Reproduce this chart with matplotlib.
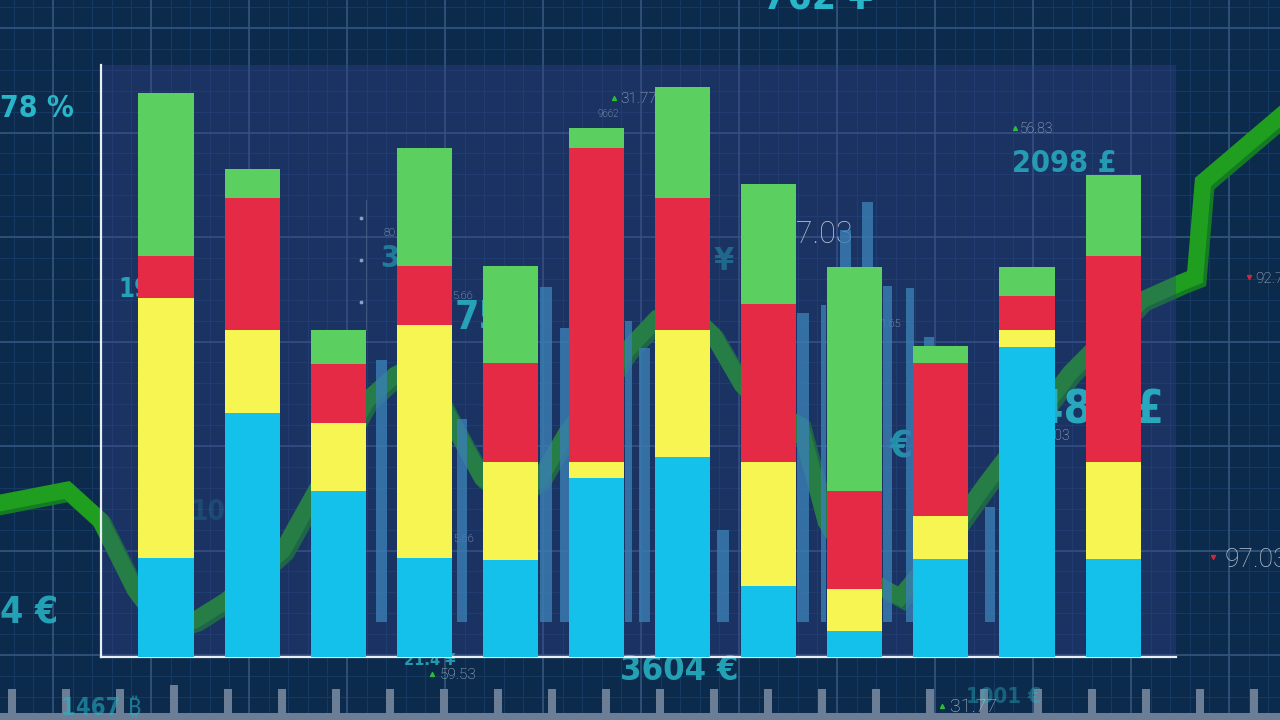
import numpy as np
import matplotlib
matplotlib.use("Agg")
import matplotlib.pyplot as plt
from matplotlib.patches import Rectangle
from matplotlib import font_manager as fm

# ---------------- data ----------------
categories = list(range(12))
blue   = [16.7, 41.2, 28.0, 16.7, 16.4, 30.2, 33.8, 12.0, 4.4, 16.6, 52.4, 16.6]
yellow = [43.9, 14.0, 11.5, 39.4, 16.6, 2.7, 21.5, 20.9, 7.1, 7.3, 2.9, 16.4]
red    = [7.1, 22.3, 10.0, 10.0, 16.6, 53.0, 22.3, 26.7, 16.6, 25.7, 5.7, 34.8]
green  = [27.5, 4.9, 5.7, 19.9, 16.4, 3.4, 18.6, 20.3, 37.8, 2.9, 4.9, 13.7]

# faint background bars (category units)
bg_pos    = [2.50, 3.44, 4.41, 4.63, 5.37, 5.56, 6.47, 7.40, 7.64, 7.89, 8.15, 8.38, 8.64, 8.86, 9.57]
bg_width  = [0.13, 0.12, 0.14, 0.10, 0.08, 0.13, 0.14, 0.14, 0.06, 0.13, 0.13, 0.10, 0.10, 0.12, 0.12]
bg_top    = [50.2, 40.2, 62.5, 55.6, 56.8, 52.2, 21.5, 58.1, 59.5, 72.1, 76.9, 62.7, 62.3, 54.1, 25.3]
bg_bottom = 5.9

# trend ribbon (background, image units)
trend_x = [-10, 0, 67, 100, 135, 165, 195, 227, 283, 308, 367, 395, 420, 453, 482, 510, 539, 567,
           600, 627, 657, 685, 713, 742, 770, 800, 826, 860, 900, 935, 985, 1070, 1142, 1180, 1195,
           1203, 1290]
trend_y = [505, 503, 490, 520, 590, 630, 620, 600, 550, 505, 400, 375, 362, 425, 478, 497, 480, 432,
           390, 350, 318, 308, 335, 385, 410, 425, 522, 575, 597, 555, 485, 373, 300, 283, 277,
           182, 108]

# decorative numbers
big_labels = [  # text, x, baseline y, ha, size, alpha, max width
    ("78 %", 0, 117, "left", 25, 1.0, 74),
    ("762 ¥", 763, 10, "left", 30, 1.0, 110),
    ("19", 118, 297, "left", 25, 0.85, 32),
    ("2098 £", 1012, 172, "left", 25, 0.8, 105),
    ("1482 £", 1164, 423, "right", 33, 0.9, 200),
    ("4 €", 0, 623, "left", 30, 0.85, 58),
    ("3604 €", 620, 680, "left", 30, 0.85, 118),
    ("21.4 ¥", 404, 665, "left", 16, 0.8, 52),
    ("1467 ₿", 61, 715, "left", 28, 0.55, 80),
    ("1001 €", 966, 703, "left", 22, 0.4, 75),
    ("75.3", 455, 330, "left", 28, 0.85, 200),
    ("3", 380, 267, "left", 22, 0.55, 200),
    ("26 €", 913, 457, "right", 27, 0.7, 200),
    ("4 ¥", 734, 270, "right", 23, 0.4, 200),
    ("1008", 190, 520, "left", 20, 0.18, 200),
]
small_labels = [  # text, x, baseline y, ha, size
    ("47.03", 853, 243, "right", 22),
    ("97.03", 1225, 567, "left", 19),
    ("92.7", 1255, 283, "left", 11),
    ("31.77", 950, 712, "left", 14),
    ("31.77", 620, 103, "left", 11),
    ("56.83", 1020, 133, "left", 10),
    ("59.53", 440, 679, "left", 11),
    ("9662", 598, 117, "left", 7),
    ("5.66", 452, 299, "left", 8),
    ("5.66", 453, 542, "left", 8),
    ("80", 383, 236, "left", 8),
    ("17.03", 1070, 440, "right", 10),
    ("1.65", 901, 327, "right", 8),
]
up_marks = [(942, 706), (614, 98), (432, 674), (1015, 128)]
down_marks = [(1213, 557), (1249, 277)]

# ---------------- fonts ----------------
entries = fm.fontManager.ttflist
names = {f.name for f in entries}
cond_stretches = ("condensed", "semi-condensed", "extra-condensed", "ultra-condensed")
cond_name = None
for cand in ["Liberation Sans Narrow", "DejaVu Sans", "Noto Sans", "Open Sans", "Roboto", "Lato", "Inter"]:
    if any(f.name == cand and (cand == "Liberation Sans Narrow" or f.stretch in cond_stretches)
           for f in entries):
        cond_name = cand
        break
if cond_name is None:
    cond_name = "Roboto" if "Roboto" in names else "DejaVu Sans"
cond_family = [cond_name, "DejaVu Sans", "Noto Sans"]
light_family, light_weight = "DejaVu Sans", "normal"
for cand in ["Roboto", "Lato", "Open Sans", "Inter", "Noto Sans"]:
    if any(f.name == cand and (isinstance(f.weight, int) and f.weight <= 300) for f in entries):
        light_family, light_weight = cand, "light"
        break

# ---------------- colours ----------------
BG = "#0c2a4c"
PANEL = "#35448d"
C_BLUE, C_YEL, C_RED, C_GRN = "#13c1ea", "#f7f552", "#e42a45", "#5bcf5f"
CYAN = "#29b6c8"
GREY = "#b9c3d0"

fig = plt.figure(figsize=(12.8, 7.2), dpi=100)
fig.patch.set_facecolor(BG)

# background layer in image units
bg = fig.add_axes([0, 0, 1, 1], zorder=0)
bg.set_xlim(0, 1280)
bg.set_ylim(720, 0)
bg.set_facecolor(BG)
bg.axis("off")

for xv in np.arange(53 - 98, 1290, 19.6):
    bg.axvline(xv, color="#163a62", lw=0.7, zorder=1)
for yv in np.arange(28 - 104.5, 730, 20.9):
    bg.axhline(yv, color="#163a62", lw=0.7, zorder=1)
for xv in np.arange(53 - 98, 1290, 98):
    bg.axvline(xv, color="#33557d", lw=1.2, zorder=1.1)
for yv in np.arange(28, 730, 104.5):
    bg.axhline(yv, color="#33557d", lw=1.2, zorder=1.1)

# trend ribbon
bg.plot(np.array(trend_x) + 3, np.array(trend_y) + 3, color="#147a24", lw=12.5,
        solid_joinstyle="miter", zorder=2)
bg.plot(trend_x, trend_y, color="#1f9e1f", lw=12, solid_joinstyle="miter", zorder=2.1)

# plot panel
bg.add_patch(Rectangle((101, 65), 1075, 592, facecolor=PANEL, alpha=0.36, lw=0, zorder=3))

# decorative dots / thin line
bg.plot([366, 366], [200, 330], color="#6f86a3", lw=0.6, alpha=0.5, zorder=4)
bg.scatter([361, 361, 361], [218, 260, 302], s=3, color="#8fa2ba", zorder=4)

big_texts = []
for t, x, y, ha, s, a, mw in big_labels:
    txt = bg.text(x, y, t, ha=ha, va="baseline", fontsize=s, color=CYAN, alpha=a,
                  family=cond_family, weight="bold", stretch="condensed", zorder=5)
    big_texts.append((txt, s, mw))
for t, x, y, ha, s in small_labels:
    bg.text(x, y, t, ha=ha, va="baseline", fontsize=s, color=GREY,
            family=light_family, weight=light_weight, zorder=5)
bg.scatter([p[0] for p in up_marks], [p[1] for p in up_marks], marker="^", s=8,
           color="#2dbb3a", zorder=5)
bg.scatter([p[0] for p in down_marks], [p[1] for p in down_marks], marker="v", s=8,
           color="#d0283c", zorder=5)

# bottom ruler
ruler_x = np.arange(12, 1280, 54)
for xv in ruler_x:
    top = 685 if xv == 174 else 689
    bg.add_patch(Rectangle((xv - 4, top), 8, 713 - top, facecolor="#6b7e95", lw=0, zorder=4))
bg.add_patch(Rectangle((0, 713), 1280, 7, facecolor="#6b7e95", lw=0, zorder=4))

# ---------------- main chart ----------------
ax = fig.add_axes([101 / 1280, 63 / 720, 1075 / 1280, 592 / 720], zorder=1)
ax.set_facecolor("none")
ax.set_xlim(-0.755, 11.73)
ax.set_ylim(0, 100)

ax.bar(bg_pos, np.array(bg_top) - bg_bottom, width=bg_width, bottom=bg_bottom,
       color="#3b7fb4", alpha=0.8, zorder=1)

b = np.array(blue)
y_ = np.array(yellow)
r = np.array(red)
g = np.array(green)
w = 0.64
ax.bar(categories, b, width=w, color=C_BLUE, zorder=3)
ax.bar(categories, y_, width=w, bottom=b, color=C_YEL, zorder=3)
ax.bar(categories, r, width=w, bottom=b + y_, color=C_RED, zorder=3)
ax.bar(categories, g, width=w, bottom=b + y_ + r, color=C_GRN, zorder=3)

for side in ["top", "right"]:
    ax.spines[side].set_visible(False)
for side in ["left", "bottom"]:
    ax.spines[side].set_color("#e8eef5")
    ax.spines[side].set_linewidth(1.6)
ax.set_xticks([])
ax.set_yticks([])

# shrink labels that are much wider than in the reference
fig.canvas.draw()
renderer = fig.canvas.get_renderer()
for txt, s, mw in big_texts:
    wpx = txt.get_window_extent(renderer).width
    if wpx > mw:
        txt.set_fontsize(s * mw / wpx)

fig.savefig("out.png", dpi=100, facecolor=BG)
